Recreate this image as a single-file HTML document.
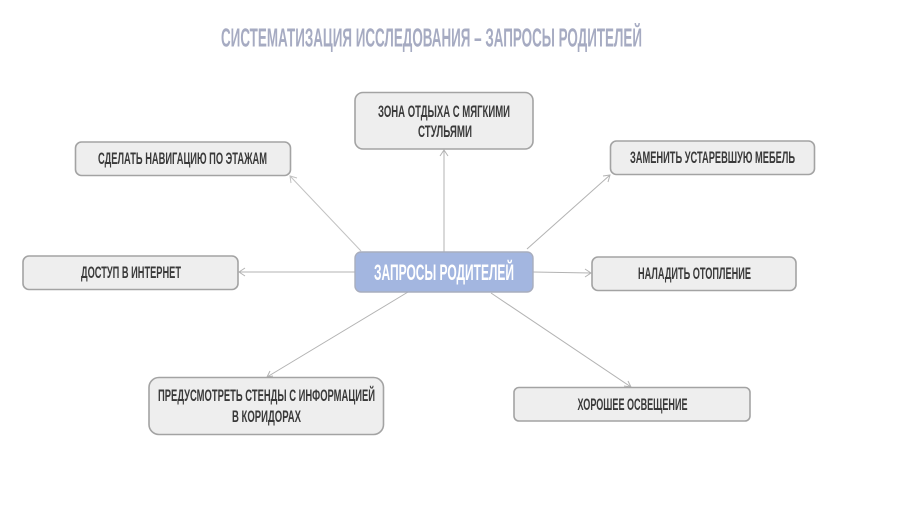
<!DOCTYPE html>
<html><head><meta charset="utf-8"><style>
html,body{margin:0;padding:0;background:#fff;width:900px;height:506px;overflow:hidden}
svg{display:block}
text{font-family:"Liberation Sans",sans-serif;font-weight:700;text-anchor:start}
.n{fill:#eeeeee;stroke:#a3a3a3;stroke-width:1.6}
.t{fill:#3a3a3a;font-size:17px}
.l{fill:none;stroke:#b3b3b3;stroke-width:1}
</style></head><body>
<svg width="900" height="506" viewBox="0 0 900 506" xmlns="http://www.w3.org/2000/svg">
<rect width="900" height="506" fill="#fff"/>
<text x="221" y="46.500" font-size="25.500" fill="#a6abc2" textLength="421" lengthAdjust="spacingAndGlyphs">СИСТЕМАТИЗАЦИЯ ИССЛЕДОВАНИЯ – ЗАПРОСЫ РОДИТЕЛЕЙ</text>

<path class="l" d="M444 252V150M440 156L444 150L448 156"/>
<path class="l" stroke-opacity=".8" d="M361 251L290 176M297 178L290 176L291 183"/>
<path class="l" d="M527 249L610 175M603 176L610 175L608 182"/>
<path class="l" d="M355 272L239 272M245 268L239 272L245 276"/>
<path class="l" d="M533 272L591 273M585 269L591 273L585 277"/>
<path class="l" d="M408 292L267 377M273 376L267 377L270 371"/>
<path class="l" d="M491 293L631 387M624 386L631 387L628 381"/>

<rect class="n" x="355" y="92.500" width="178" height="56.500" rx="8"/>
<text class="t" x="378" y="117" textLength="132" lengthAdjust="spacingAndGlyphs">ЗОНА ОТДЫХА С МЯГКИМИ</text>
<text class="t" x="418" y="137" textLength="54" lengthAdjust="spacingAndGlyphs">СТУЛЬЯМИ</text>

<rect class="n" x="75.500" y="142" width="215" height="33.500" rx="6"/>
<text class="t" x="98" y="164" textLength="169" lengthAdjust="spacingAndGlyphs">СДЕЛАТЬ НАВИГАЦИЮ ПО ЭТАЖАМ</text>

<rect class="n" x="610.500" y="141" width="204" height="33.500" rx="6"/>
<text class="t" x="630" y="163" textLength="165" lengthAdjust="spacingAndGlyphs">ЗАМЕНИТЬ УСТАРЕВШУЮ МЕБЕЛЬ</text>

<rect class="n" x="23" y="256" width="215" height="33.500" rx="6"/>
<text class="t" x="81" y="278" textLength="100" lengthAdjust="spacingAndGlyphs">ДОСТУП В ИНТЕРНЕТ</text>

<rect x="355" y="252" width="178" height="40" rx="6" fill="#a3b6e0" stroke="#a8adbd" stroke-width="1.400"/>
<text x="374" y="280" font-size="22" fill="#ffffff" textLength="140" lengthAdjust="spacingAndGlyphs">ЗАПРОСЫ РОДИТЕЛЕЙ</text>

<rect class="n" x="592" y="257" width="204" height="33.500" rx="6"/>
<text class="t" x="638" y="279" textLength="113" lengthAdjust="spacingAndGlyphs">НАЛАДИТЬ ОТОПЛЕНИЕ</text>

<rect class="n" x="149" y="377.500" width="234.500" height="57" rx="10"/>
<text class="t" x="158" y="401" textLength="217" lengthAdjust="spacingAndGlyphs">ПРЕДУСМОТРЕТЬ СТЕНДЫ С ИНФОРМАЦИЕЙ</text>
<text class="t" x="232" y="422" textLength="69" lengthAdjust="spacingAndGlyphs">В КОРИДОРАХ</text>

<rect class="n" x="514" y="387.500" width="236" height="33.500" rx="5"/>
<text class="t" x="577.500" y="410" textLength="110" lengthAdjust="spacingAndGlyphs">ХОРОШЕЕ ОСВЕЩЕНИЕ</text>
</svg>
</body></html>
